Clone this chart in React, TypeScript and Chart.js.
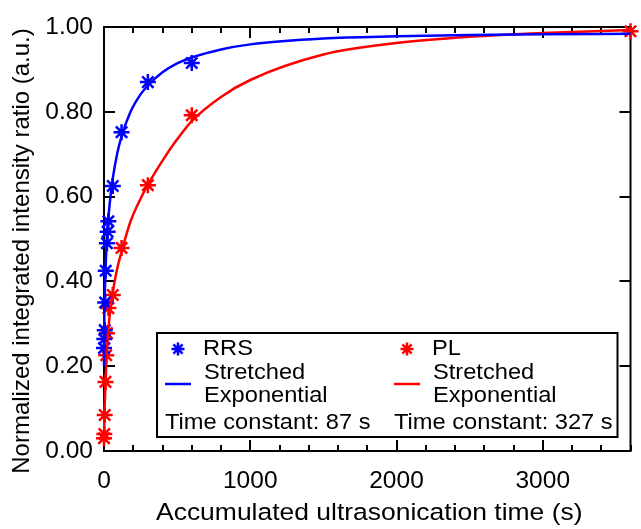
import React, { useEffect, useRef } from "react";
import { Chart, registerables } from "chart.js";

Chart.register(...registerables);

// Measured data points (s, normalized ratio)
const rrsTime = [0, 2, 5, 8, 12, 20, 25, 30, 60, 120, 300, 600];
const rrsRatio = [0.243, 0.264, 0.285, 0.35, 0.425, 0.49, 0.517, 0.542, 0.625, 0.752, 0.87, 0.915];
const plTime = [0, 2, 5, 10, 15, 20, 30, 60, 120, 300, 600, 3600];
const plRatio = [0.03, 0.04, 0.085, 0.163, 0.226, 0.278, 0.337, 0.368, 0.479, 0.627, 0.792, 0.99];

// Fitted stretched-exponential curves
const fitTime = [0, 2, 5, 10, 15, 20, 30, 45, 60, 90, 120, 180, 250, 300, 400, 500, 600, 800, 1000, 1500, 2000, 2500, 3000, 3600];
const rrsFit = [0.2, 0.311, 0.367, 0.426, 0.467, 0.499, 0.549, 0.603, 0.643, 0.701, 0.742, 0.799, 0.841, 0.862, 0.893, 0.914, 0.928, 0.947, 0.959, 0.973, 0.978, 0.981, 0.983, 0.984];
const plFit = [0.03, 0.07, 0.11, 0.16, 0.2, 0.235, 0.285, 0.34, 0.375, 0.43, 0.47, 0.54, 0.595, 0.628, 0.685, 0.735, 0.778, 0.835, 0.875, 0.935, 0.962, 0.977, 0.986, 0.993];

const xTicks = [0, 1000, 2000, 3000];
const yTicks = [0, 0.2, 0.4, 0.6, 0.8, 1.0];

const xTitle = "Accumulated ultrasonication time (s)";
const yTitle = "Normalized integrated intensity ratio (a.u.)";
const legendRRS = "RRS";
const legendPL = "PL";
const legendFit = ["Stretched", "Exponential"];
const tauRRS = "Time constant: 87 s";
const tauPL = "Time constant: 327 s";

const BLUE = "#0000ff";
const RED = "#ff0000";
const FONT = "'Liberation Sans', Arial, Helvetica, sans-serif";

const toXY = (xs: number[], ys: number[]) => xs.map((x, i) => ({ x, y: ys[i] }));

function drawStar(ctx: CanvasRenderingContext2D, x: number, y: number, r: number) {
  ctx.beginPath();
  for (let k = 0; k < 4; k++) {
    const a = (k * Math.PI) / 4;
    ctx.moveTo(x + Math.cos(a) * r, y + Math.sin(a) * r);
    ctx.lineTo(x - Math.cos(a) * r, y - Math.sin(a) * r);
  }
  ctx.stroke();
}

function wideText(ctx: CanvasRenderingContext2D, text: string, x: number, y: number, sx: number) {
  ctx.save();
  ctx.translate(x, y);
  ctx.scale(sx, 1);
  ctx.fillText(text, 0, 0);
  ctx.restore();
}

const framePlugin = {
  id: "frame",
  beforeDatasetsDraw(chart: any) {
    const { ctx, chartArea: ca, scales } = chart;
    const xs = scales.x;
    const ys = scales.y;
    ctx.save();
    ctx.strokeStyle = "#000";
    ctx.lineWidth = 2;
    ctx.strokeRect(ca.left, ca.top, ca.right - ca.left, ca.bottom - ca.top);
    ctx.beginPath();
    for (let v = 0; v <= 3600; v += 200) {
      const px = Math.round(xs.getPixelForValue(v));
      const len = v % 1000 === 0 ? 11 : 6;
      ctx.moveTo(px, ca.bottom);
      ctx.lineTo(px, ca.bottom - len);
      ctx.moveTo(px, ca.top);
      ctx.lineTo(px, ca.top + len);
    }
    for (const v of yTicks) {
      const py = Math.round(ys.getPixelForValue(v));
      ctx.moveTo(ca.left, py);
      ctx.lineTo(ca.left + 11, py);
      ctx.moveTo(ca.right, py);
      ctx.lineTo(ca.right - 11, py);
    }
    ctx.stroke();

    // axis titles
    ctx.fillStyle = "#000";
    ctx.textBaseline = "middle";
    ctx.textAlign = "center";
    ctx.font = `24.5px ${FONT}`;
    wideText(ctx, xTitle, (ca.left + ca.right) / 2 + 2, 513, 1.08);
    ctx.save();
    ctx.translate(22, 251);
    ctx.rotate(-Math.PI / 2);
    ctx.font = `24px ${FONT}`;
    ctx.fillText(yTitle, 0, 0);
    ctx.restore();
    ctx.restore();
  },
  afterDatasetsDraw(chart: any) {
    const { ctx, chartArea: ca } = chart;
    const bx = ca.left + 53;
    const by = ca.top + 306;
    const bw = ca.right - 13 - bx;
    const bh = ca.bottom - 14 - by;
    ctx.save();
    ctx.fillStyle = "#fff";
    ctx.fillRect(bx, by, bw, bh);
    ctx.strokeStyle = "#000";
    ctx.lineWidth = 2;
    ctx.strokeRect(bx, by, bw, bh);
    ctx.font = `22px ${FONT}`;
    ctx.textBaseline = "middle";
    ctx.textAlign = "left";
    ctx.fillStyle = "#000";
    const sx = 1.075;
    const cols = [
      { x: bx, color: BLUE, name: legendRRS, tau: tauRRS },
      { x: bx + 229, color: RED, name: legendPL, tau: tauPL },
    ];
    for (const c of cols) {
      ctx.strokeStyle = c.color;
      ctx.lineWidth = 2.5;
      drawStar(ctx, c.x + 21, by + 16, 6.5);
      ctx.beginPath();
      ctx.moveTo(c.x + 8, by + 51);
      ctx.lineTo(c.x + 34, by + 51);
      ctx.stroke();
      ctx.fillStyle = "#000";
      wideText(ctx, c.name, c.x + 46, by + 16, sx);
      wideText(ctx, legendFit[0], c.x + 47, by + 40, sx);
      wideText(ctx, legendFit[1], c.x + 47, by + 63, sx);
      wideText(ctx, c.tau, c.x + 8, by + 90, sx);
    }
    ctx.restore();
  },
};

export default function App() {
  const ref = useRef<HTMLCanvasElement | null>(null);
  useEffect(() => {
    if (!ref.current) return;
    const chart = new Chart(ref.current, {
      type: "scatter",
      data: {
        datasets: [
          {
            label: "RRS fit",
            data: toXY(fitTime, rrsFit),
            showLine: true,
            borderColor: BLUE,
            borderWidth: 2.5,
            pointRadius: 0,
            cubicInterpolationMode: "monotone",
            clip: false,
          },
          {
            label: "PL fit",
            data: toXY(fitTime, plFit),
            showLine: true,
            borderColor: RED,
            borderWidth: 2.5,
            pointRadius: 0,
            cubicInterpolationMode: "monotone",
            clip: false,
          },
          {
            label: "RRS",
            data: toXY(rrsTime, rrsRatio),
            showLine: false,
            pointStyle: "star",
            pointRadius: 8,
            borderColor: BLUE,
            backgroundColor: BLUE,
            pointBorderWidth: 2.5,
            clip: false,
          },
          {
            label: "PL",
            data: toXY(plTime, plRatio),
            showLine: false,
            pointStyle: "star",
            pointRadius: 8,
            borderColor: RED,
            backgroundColor: RED,
            pointBorderWidth: 2.5,
            clip: false,
          },
        ] as any,
      },
      options: {
        animation: false,
        responsive: false,
        devicePixelRatio: 1,
        layout: { padding: { top: 27, right: 5, left: 0, bottom: 0 } },
        plugins: { legend: { display: false }, tooltip: { enabled: false } },
        scales: {
          x: {
            type: "linear",
            min: 0,
            max: 3600,
            grid: { display: false, drawTicks: false, tickLength: 0 },
            border: { display: false },
            afterBuildTicks: (s: any) => {
              s.ticks = xTicks.map((v) => ({ value: v }));
            },
            afterFit: (s: any) => {
              s.height = 78;
            },
            ticks: {
              color: "#000",
              font: { family: FONT, size: 24.5 },
              padding: 16,
              maxRotation: 0,
              callback: (v: any) => String(v),
            },
            title: { display: false },
          },
          y: {
            type: "linear",
            min: 0,
            max: 1,
            grid: { display: false, drawTicks: false, tickLength: 0 },
            border: { display: false },
            afterBuildTicks: (s: any) => {
              s.ticks = yTicks.map((v) => ({ value: v }));
            },
            afterFit: (s: any) => {
              s.width = 104;
            },
            ticks: {
              color: "#000",
              font: { family: FONT, size: 24.5 },
              padding: 11,
              callback: (v: any) => Number(v).toFixed(2),
            },
            title: { display: false },
          },
        },
      } as any,
      plugins: [framePlugin],
    });
    return () => chart.destroy();
  }, []);
  return (
    <div style={{ position: "absolute", left: 0, top: 0, width: 641, height: 529, background: "#fff" }}>
      <canvas ref={ref} width={641} height={529} style={{ display: "block" }} />
    </div>
  );
}
